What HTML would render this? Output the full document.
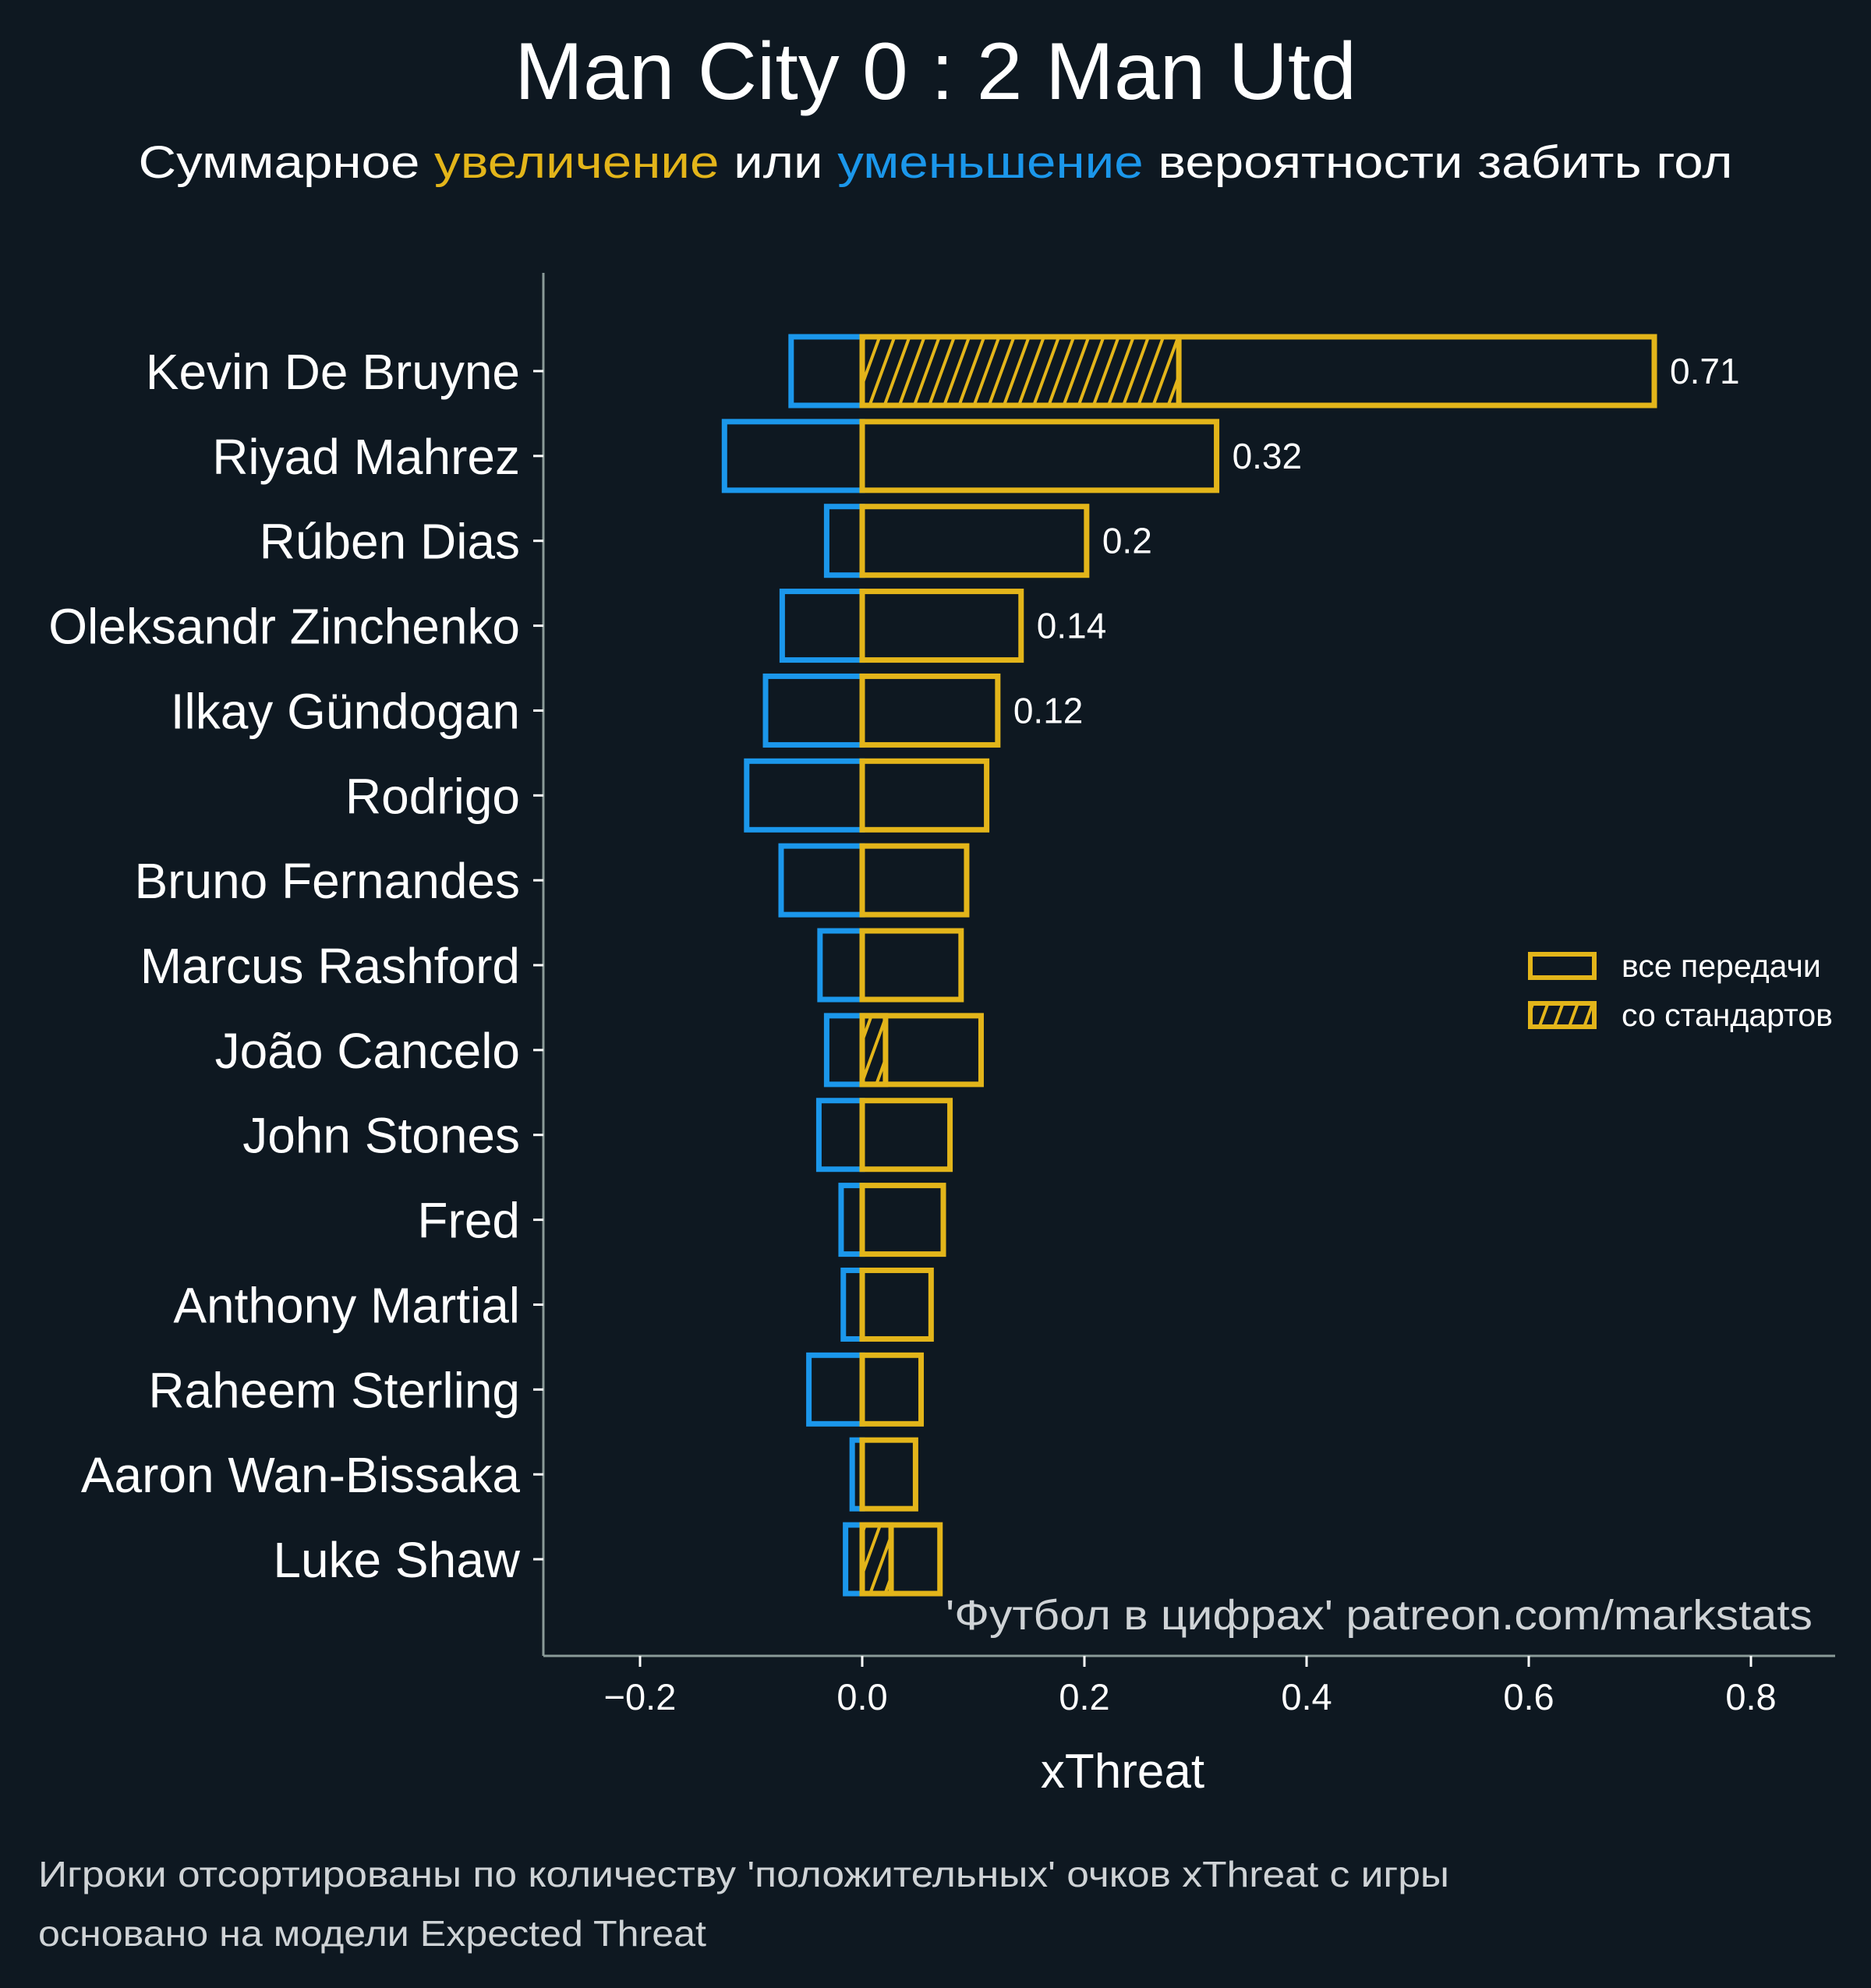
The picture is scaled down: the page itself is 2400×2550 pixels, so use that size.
<!DOCTYPE html>
<html><head><meta charset="utf-8"><style>
html,body{margin:0;padding:0;background:#0e1821;}
svg{display:block;font-family:"Liberation Sans","DejaVu Sans",sans-serif;}
</style></head><body>
<svg id="chart" width="2400" height="2550" viewBox="0 0 2400 2550">
<defs>
<pattern id="hatch" patternUnits="userSpaceOnUse" width="18" height="18" patternTransform="rotate(20)">
<line x1="2" y1="-2" x2="2" y2="20" stroke="#e3b51a" stroke-width="4"/>
</pattern>
</defs>
<rect width="2400" height="2550" fill="#0e1821"/>
<text x="1200" y="127" text-anchor="middle" font-size="104" fill="#ffffff" textLength="1080" lengthAdjust="spacingAndGlyphs">Man City 0 : 2 Man Utd</text>
<text x="1200" y="228" text-anchor="middle" font-size="58" fill="#ffffff" textLength="2045" lengthAdjust="spacingAndGlyphs">Суммарное <tspan fill="#e3b51a">увеличение</tspan> или <tspan fill="#1b97eb">уменьшение</tspan> вероятности забить гол</text>
<g id="plot"></g>
<line x1="697" y1="350" x2="697" y2="2124" stroke="#8a9a98" stroke-width="3"/>
<line x1="697" y1="2124" x2="2354" y2="2124" stroke="#8a9a98" stroke-width="3"/>
<text x="1440" y="2293" text-anchor="middle" font-size="62" fill="#ffffff">xThreat</text>
<text x="2325" y="2090" text-anchor="end" font-size="54" fill="#cfd3d6" textLength="1112" lengthAdjust="spacingAndGlyphs">'Футбол в цифрах' patreon.com/markstats</text>
<g>
<rect x="1963" y="1224" width="82" height="30" fill="none" stroke="#e3b51a" stroke-width="6"/>
<text x="2080" y="1253" font-size="41" fill="#ffffff">все передачи</text>
<rect x="1963" y="1287" width="82" height="30" fill="url(#hatch)" stroke="#e3b51a" stroke-width="6"/>
<text x="2080" y="1316" font-size="41" fill="#ffffff">со стандартов</text>
</g>
<text x="49" y="2420" font-size="46" fill="#cfd3d6" textLength="1810" lengthAdjust="spacingAndGlyphs">Игроки отсортированы по количеству 'положительных' очков xThreat с игры</text>
<text x="49" y="2496" font-size="46" fill="#cfd3d6" textLength="857" lengthAdjust="spacingAndGlyphs">основано на модели Expected Threat</text>
</svg>
<script>
const players = ["Kevin De Bruyne","Riyad Mahrez","Rúben Dias","Oleksandr Zinchenko","Ilkay Gündogan","Rodrigo","Bruno Fernandes","Marcus Rashford","João Cancelo","John Stones","Fred","Anthony Martial","Raheem Sterling","Aaron Wan-Bissaka","Luke Shaw"];
const negative = [-0.064,-0.124,-0.032,-0.072,-0.087,-0.104,-0.073,-0.038,-0.032,-0.039,-0.019,-0.017,-0.048,-0.009,-0.015];
const positive = [0.713,0.319,0.202,0.143,0.122,0.112,0.094,0.089,0.107,0.079,0.073,0.062,0.053,0.048,0.070];
const setPieces = [0.285,0,0,0,0,0,0,0,0.021,0,0,0,0,0,0.026];
const valueLabels = ["0.71","0.32","0.2","0.14","0.12","","","","","","","","","",""];
const xTicks = [-0.2,0.0,0.2,0.4,0.6,0.8];
const xTickLabels = ["−0.2","0.0","0.2","0.4","0.6","0.8"];

const NS = "http://www.w3.org/2000/svg";
const plot = document.getElementById('plot');
const svg = document.getElementById('chart');
const X0 = 1106, PXU = 1425;
const xs = v => X0 + v * PXU;
const ys = i => 476 + i * 108.86;
const BH = 88;
function mk(tag, attrs, parent){
  const e = document.createElementNS(NS, tag);
  for (const k in attrs) e.setAttribute(k, attrs[k]);
  (parent||plot).appendChild(e);
  return e;
}
players.forEach((p, i) => {
  const cy = ys(i);
  const tick = mk('line', {x1:684, x2:697, y1:cy, y2:cy, stroke:'#ffffff', 'stroke-width':3}, svg);
  
  
  const lab = mk('text', {x:667, y:cy+23, 'text-anchor':'end', 'font-size':64, fill:'#ffffff'}, svg);
  lab.textContent = p;
  
  
  const nb = mk('rect', {x:xs(negative[i]), y:cy-BH/2, width:xs(0)-xs(negative[i]), height:BH, fill:'none', stroke:'#1b97eb', 'stroke-width':7});
  
  
  const pb = mk('rect', {x:xs(0), y:cy-BH/2, width:xs(positive[i])-xs(0), height:BH, fill:'none', stroke:'#e3b51a', 'stroke-width':7});
  
  
  if (setPieces[i] > 0) {
    const hb = mk('rect', {x:xs(0), y:cy-BH/2, width:xs(setPieces[i])-xs(0), height:BH, fill:'url(#hatch)', stroke:'#e3b51a', 'stroke-width':7});
    
    
  }
  if (valueLabels[i]) {
    const vl = mk('text', {x:xs(positive[i])+20, y:cy+16, 'font-size':46, fill:'#ffffff'});
    vl.textContent = valueLabels[i];
    
    
  }
});
xTicks.forEach((t, i) => {
  const tl = mk('line', {x1:xs(t), x2:xs(t), y1:2124, y2:2138, stroke:'#ffffff', 'stroke-width':3}, svg);
  
  
  const tt = mk('text', {x:xs(t), y:2193, 'text-anchor':'middle', 'font-size':47, fill:'#ffffff'}, svg);
  tt.textContent = xTickLabels[i];
  
  
});
</script>
</body></html>
